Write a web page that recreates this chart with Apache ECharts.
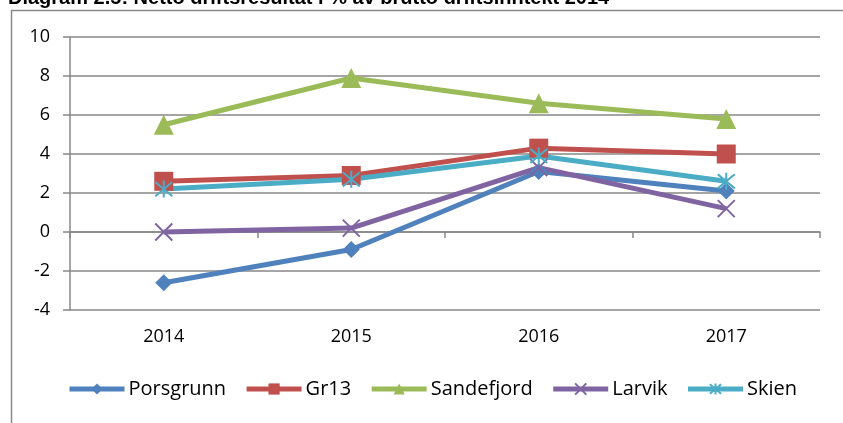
<!DOCTYPE html>
<html>
<head>
<meta charset="utf-8">
<script src="https://cdn.jsdelivr.net/npm/echarts@6/dist/echarts.min.js"></script>
<style>
  html, body { margin: 0; padding: 0; background: #fff; }
  #main { width: 843px; height: 423px; }
</style>
</head>
<body>
<div id="main"></div>
<script type="text/javascript">
    // data
    var years = ['2014', '2015', '2016', '2017'];
    var porsgrunn = [-2.6, -0.9, 3.1, 2.1];
    var gr13 = [2.6, 2.9, 4.3, 4.0];
    var sandefjord = [5.5, 7.9, 6.6, 5.8];
    var larvik = [0.0, 0.2, 3.3, 1.2];
    var skien = [2.2, 2.7, 3.9, 2.6];

    var font = 'Open Sans';
    var gridColor = '#878787';

    var crossPath = 'path://M0,0L10,10M10,0L0,10';
    var starPath = 'path://M0,0L10,10M10,0L0,10M5,-1L5,11';

    function mkSeries(name, data, color, symbol, size, strokeOnly) {
        return {
            name: name,
            type: 'line',
            data: data,
            xAxisIndex: 0,
            symbol: symbol,
            symbolSize: size,
            showAllSymbol: true,
            lineStyle: { color: color, width: 5 },
            itemStyle: strokeOnly
                ? { color: color, borderColor: color, borderWidth: 2 }
                : { color: color, borderWidth: 0 },
            emphasis: { disabled: true }
        };
    }

    var myChart = echarts.init(document.getElementById('main'));
    var option = {
        animation: false,
        textStyle: { fontFamily: font },
        graphic: [
            {
                type: 'text',
                left: 8,
                top: -12,
                style: {
                    text: 'Diagram 2.5: Netto driftsresultat i % av brutto driftsinntekt 2014',
                    font: 'bold 20px "Liberation Sans", Arial',
                    fill: '#000'
                }
            },
            {
                type: 'rect',
                shape: { x: 11.5, y: 10.5, width: 900, height: 500 },
                style: { fill: 'none', stroke: '#8a8a8a', lineWidth: 1.5 },
                silent: true
            }
        ],
        grid: { left: 70, right: 23, top: 37, bottom: 113, containLabel: false },
        legend: {
            bottom: 19,
            left: 62,
            itemWidth: 55,
            itemHeight: 14,
            itemGap: 18,
            lineStyle: { width: 5 },
            textStyle: { fontSize: 20, color: '#000', fontFamily: font, padding: [0, 0, 0, -1] },
            data: ['Porsgrunn', 'Gr13', 'Sandefjord', 'Larvik', 'Skien']
        },
        xAxis: [
            {
                type: 'category',
                data: years,
                boundaryGap: true,
                axisLine: { onZero: true, lineStyle: { color: gridColor, width: 1.5 } },
                axisTick: { show: true, length: 6, lineStyle: { color: gridColor, width: 1.5 } },
                axisLabel: { show: false },
                splitLine: { show: false }
            },
            {
                type: 'category',
                data: years,
                position: 'bottom',
                boundaryGap: true,
                axisLine: { show: false, onZero: false },
                axisTick: { show: false },
                axisLabel: { color: '#000', fontSize: 18, margin: 18, fontFamily: font },
                splitLine: { show: false }
            }
        ],
        yAxis: {
            type: 'value',
            min: -4,
            max: 10,
            interval: 2,
            axisLine: { show: true, lineStyle: { color: gridColor, width: 1.5 } },
            axisTick: { show: true, length: 7, lineStyle: { color: gridColor, width: 1.5 } },
            axisLabel: { color: '#000', fontSize: 18, margin: 20, fontFamily: font },
            splitLine: { show: true, lineStyle: { color: gridColor, width: 1.5 } }
        },
        series: [
            mkSeries('Porsgrunn', porsgrunn, '#4F81BD', 'diamond', 17, false),
            mkSeries('Gr13', gr13, '#C0504D', 'rect', 19, false),
            mkSeries('Sandefjord', sandefjord, '#9BBB59', 'triangle', 20, false),
            mkSeries('Larvik', larvik, '#8064A2', crossPath, 17, true),
            mkSeries('Skien', skien, '#4BACC6', starPath, 17, true)
        ]
    };
    myChart.setOption(option);
</script>
</body>
</html>
